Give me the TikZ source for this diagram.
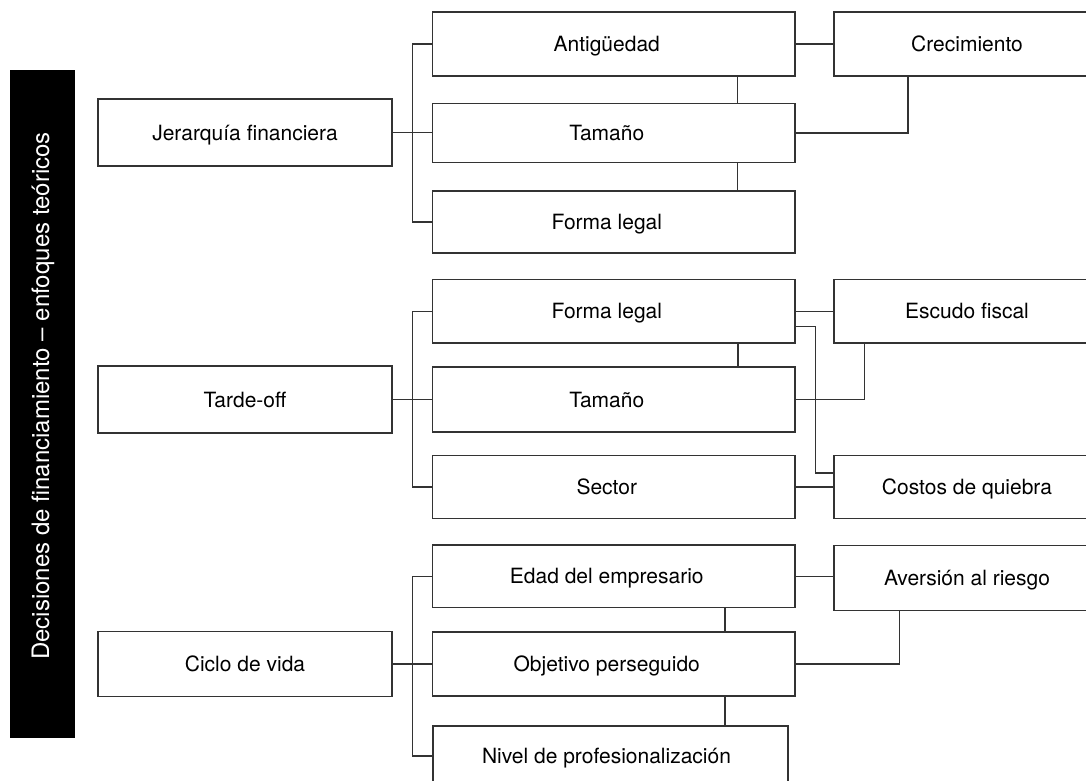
\documentclass[tikz,border=0pt]{standalone}
\usepackage{fontspec}
\setmainfont{TeX Gyre Heros}
\begin{document}
\begin{tikzpicture}[x=1pt,y=-1pt,
  every node/.style={font=\fontsize{21}{25}\selectfont},
  box/.style={draw=black!80, line width=1.1pt, rectangle, inner sep=0pt,
    text height=19.5pt, text depth=4.5pt},
  lbox/.style={box, minimum width=294pt},
  mbox/.style={box, minimum width=362.5pt, execute at end node={\hspace*{14pt}}},
  rbox/.style={box, minimum width=266pt},
  conn/.style={draw=black!80, line width=1.1pt}]
\useasboundingbox (0,0) rectangle (1086,780);

% title bar
\node[fill=black, text=white, rotate=90, inner sep=0pt,
  minimum width=668pt, minimum height=65pt,
  text height=17pt, text depth=4pt,
  font=\fontsize{24}{28}\selectfont,
  execute at begin node={\hspace*{16pt}}] (bar) at (42.5,404)
  {Decisiones de financiamiento – enfoques teóricos};

% left column
\node[lbox, minimum height=67pt] (jer) at (245,132.5) {Jerarquía financiera};
\node[lbox, minimum height=67pt] (tar) at (245,399.5) {Tarde-off};
\node[lbox, minimum height=65pt] (cic) at (245,664) {Ciclo de vida};

% middle column
\node[mbox, minimum height=64pt] (ant) at (613.75,44) {Antigüedad};
\node[mbox, minimum height=59.5pt] (tam1) at (613.75,133) {Tamaño};
\node[mbox, minimum height=62pt] (for1) at (613.75,222) {Forma legal};
\node[mbox, minimum height=63.5pt] (for2) at (613.75,311.25) {Forma legal};
\node[mbox, minimum height=65pt] (tam2) at (613.75,399.5) {Tamaño};
\node[mbox, minimum height=62.5pt] (sec) at (613.75,487) {Sector};
\node[mbox, minimum height=62.5pt] (eda) at (613.75,576.25) {Edad del empresario};
\node[mbox, minimum height=64pt] (obj) at (613.75,664) {Objetivo perseguido};
\node[box, minimum width=355pt, minimum height=60pt,
  execute at end node={\hspace*{8pt}}] (niv) at (610.5,756) {Nivel de profesionalización};

% right column
\node[rbox, minimum height=64pt] (cre) at (967,44) {Crecimiento};
\node[rbox, minimum height=63.5pt] (esc) at (967,311.25) {Escudo fiscal};
\node[rbox, minimum height=62.5pt] (cos) at (967,487) {Costos de quiebra};
\node[rbox, minimum height=65.5pt] (ave) at (967,578) {Aversión al riesgo};

\coordinate (sx) at (412.5,0);

% group 1
\draw[conn] (jer.east) -- (jer.east -| tam1.west);
\draw[conn] (ant.west) -| (sx |- for1.west) -- (for1.west);
\draw[conn] ([xshift=123.75pt]ant.south) -- ([xshift=123.75pt]tam1.north);
\draw[conn] ([xshift=123.75pt]tam1.south) -- ([xshift=123.75pt]for1.north);
\draw[conn] (ant.east) -- (ant.east -| cre.west);
\draw[conn] (tam1.east) -| ([xshift=-59pt]cre.south);

% group 2
\draw[conn] (tar.east) -- (tar.east -| tam2.west);
\draw[conn] (for2.west) -| (sx |- sec.west) -- (sec.west);
\draw[conn] ([xshift=124.25pt]for2.south) -- ([xshift=124.25pt]tam2.north);
\draw[conn] (for2.east) -- (for2.east -| esc.west);
\draw[conn] ([yshift=-15pt]for2.east) -- ++(19.5,0) |- ([yshift=14pt]cos.west);
\draw[conn] (tam2.east) -| ([xshift=-102.5pt]esc.south);
\draw[conn] (sec.east) -- (sec.east -| cos.west);

% group 3
\draw[conn] (cic.east) -- (cic.east -| obj.west);
\draw[conn] (eda.west) -| (sx |- niv.west) -- (niv.west);
\draw[conn] ([xshift=111.25pt]eda.south) -- ([xshift=111.25pt]obj.north);
\draw[conn] ([xshift=111.25pt]obj.south) coordinate (l3) -- (l3 |- niv.north);
\draw[conn] (eda.east) -- (eda.east -| ave.west);
\draw[conn] (obj.east) -| ([xshift=-67.5pt]ave.south);
\end{tikzpicture}
\end{document}
